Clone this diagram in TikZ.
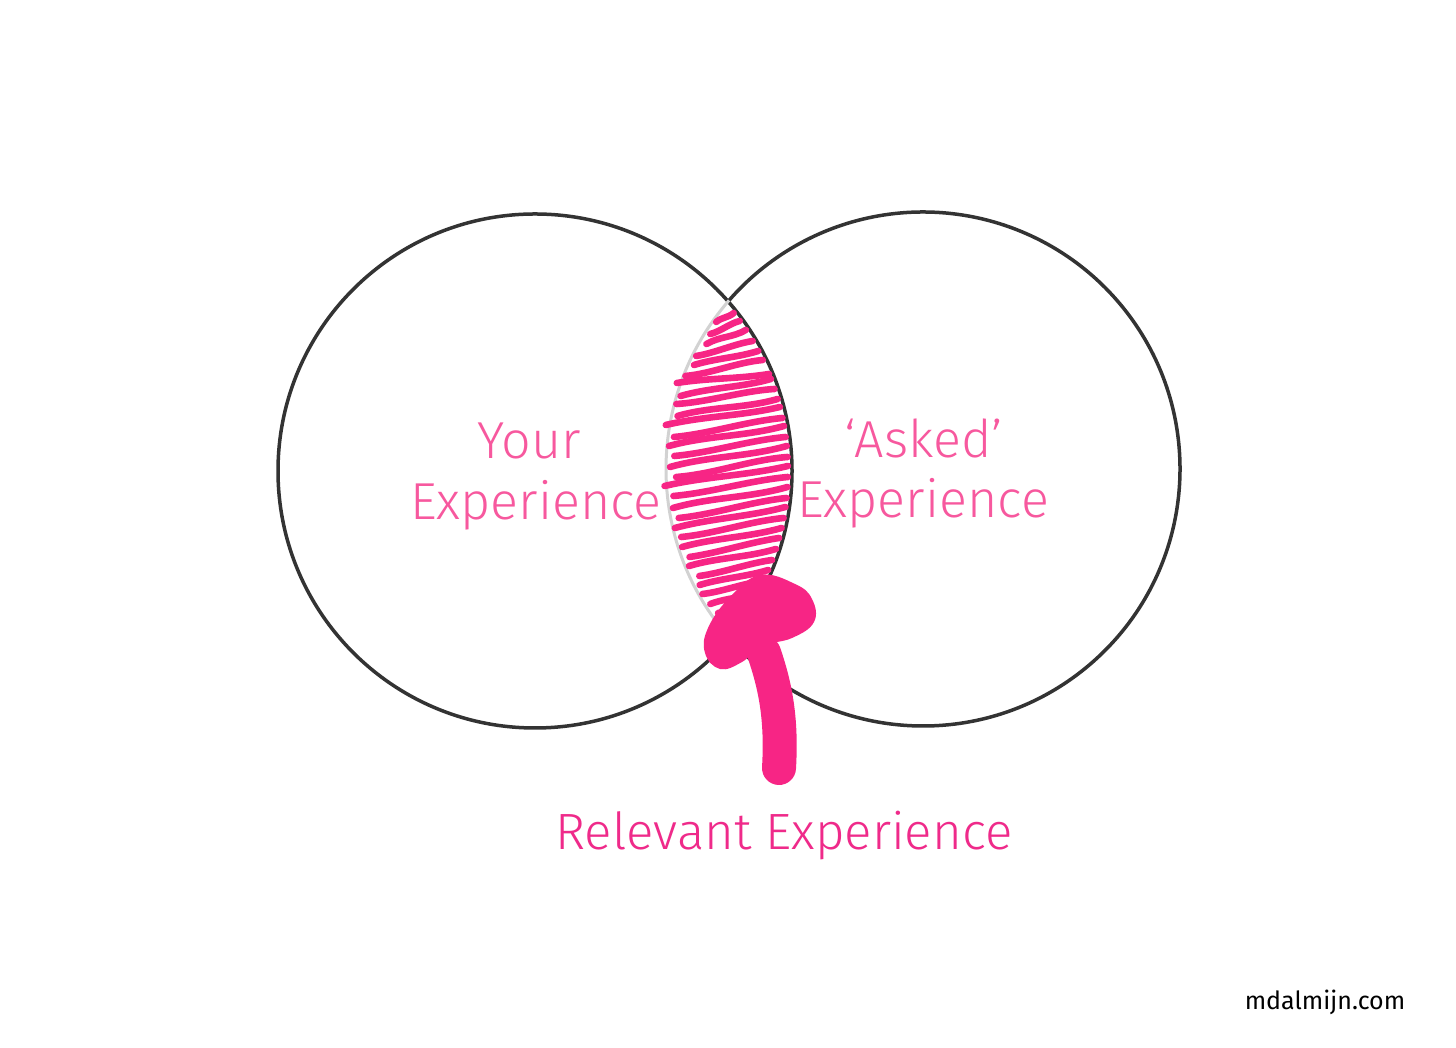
\documentclass[tikz,border=0pt]{standalone}
\usepackage{fontspec}
\setmainfont{Fira Sans Light}
\newfontfamily\urlfont{Fira Sans}
\usetikzlibrary{calc}
\definecolor{ringgray}{HTML}{333333}
\definecolor{lensgray}{HTML}{D2D2D2}
\definecolor{labelpink}{HTML}{F7589E}
\definecolor{relpink}{HTML}{EF2A8A}
\definecolor{scribpink}{HTML}{F72585}
\tikzset{
  ring/.style={draw=ringgray, line width=1.75pt},
  lensarc/.style={draw=lensgray, line width=1.5pt},
  scrib/.style={draw=scribpink, line width=3.3pt, line cap=round, line join=round},
  label/.style={text=labelpink, font=\fontsize{26}{31}\selectfont, align=center, inner sep=0pt},
  rel/.style={text=relpink, font=\fontsize{25.5}{30}\selectfont, inner sep=0pt},
  site/.style={text=black, font=\urlfont\fontsize{12.5}{15}\selectfont, inner sep=0pt}
}
\begin{document}
\begin{tikzpicture}[x=0.5pt,y=0.5pt]
\path[use as bounding box, fill=white] (0,0) rectangle (1456,1048);
% circles
\coordinate (cl) at (535,577);
\coordinate (cr) at (923,579);
\draw[ring] (cl) circle[radius=257];
\draw[ring] (cr) ++(-139:257) arc[start angle=-139, end angle=139, radius=257];
\draw[lensarc] (cr) ++(139:257) arc[start angle=139, end angle=221, radius=257];
% scribbles
\foreach \yy/\a/\b/\w/\e in {
 318/4/5/2/4, 328/6/7/-2/6, 338/6/8/3/8, 349/7/8/-2/4, 359/6/8/2/6, 369/7/9/-3/2, 379/4/5/2/-4,
 389/7/10/3/4, 398/6/9/-3/2, 408/8/9/4/6, 418/7/11/3/-4, 428/9/10/-3/6, 438/8/12/4/2,
 448/8/11/-3/8, 458/9/12/4/4, 468/9/11/-4/10, 478/8/12/3/-2, 488/8/11/-3/6, 499/9/12/4/4,
 509/9/11/-3/8, 519/9/12/3/2, 529/8/11/-3/6, 539/8/11/3/4, 549/8/11/-2/8, 559/7/10/3/4,
 569/7/9/-2/10, 579/6/9/2/6, 589/5/8/-2/4, 599/5/7/2/6, 609/4/6/-2/8} {
  \pgfmathsetmacro\yl{\yy+\a}
  \pgfmathsetmacro\yr{\yy-\b}
  \pgfmathsetmacro\xl{923-100*sqrt(max(6.6049-((\yl-469)/100)^2,0))+\e}
  \pgfmathsetmacro\xr{535+100*sqrt(max(6.6049-((\yr-471)/100)^2,0))-4}
  \pgfmathsetmacro\xa{\xl+(\xr-\xl)/3}
  \pgfmathsetmacro\xb{\xl+2*(\xr-\xl)/3}
  \pgfmathsetmacro\ya{1048-(\yl+(\yr-\yl)/3)+\w}
  \pgfmathsetmacro\yb{1048-(\yl+2*(\yr-\yl)/3)-\w}
  \draw[scrib] (\xl,1048-\yl) .. controls (\xa,\ya) and (\xb,\yb) .. (\xr,1048-\yr);
}
% arrow
\coordinate (st0) at (779,280);
\coordinate (st1) at (782,330);
\coordinate (st2) at (775,363);
\coordinate (st3) at (764,395);
\draw[draw=scribpink, line width=17pt, line cap=round] (st0) .. controls (st1) and (st2) .. (st3);
\fill[scribpink] plot[smooth cycle, tension=0.7] coordinates {
 (760,473) (795,464) (812,449) (814,426) (792,410) (762,402) (742,386)
 (720,379) (705,395) (708,420) (730,451)};
% labels
\node[label] (your) at (529,607) {Your};
\node[label] (yexp) at (536,543) {Experience};
\node[label] (asked) at (924,610) {‘Asked’};
\node[label] (aexp) at (923,545) {Experience};
\node[rel] (relexp) at (784,212) {Relevant Experience};
\node[site] (site) at (1325,46) {mdalmijn.com};
\end{tikzpicture}
\end{document}
